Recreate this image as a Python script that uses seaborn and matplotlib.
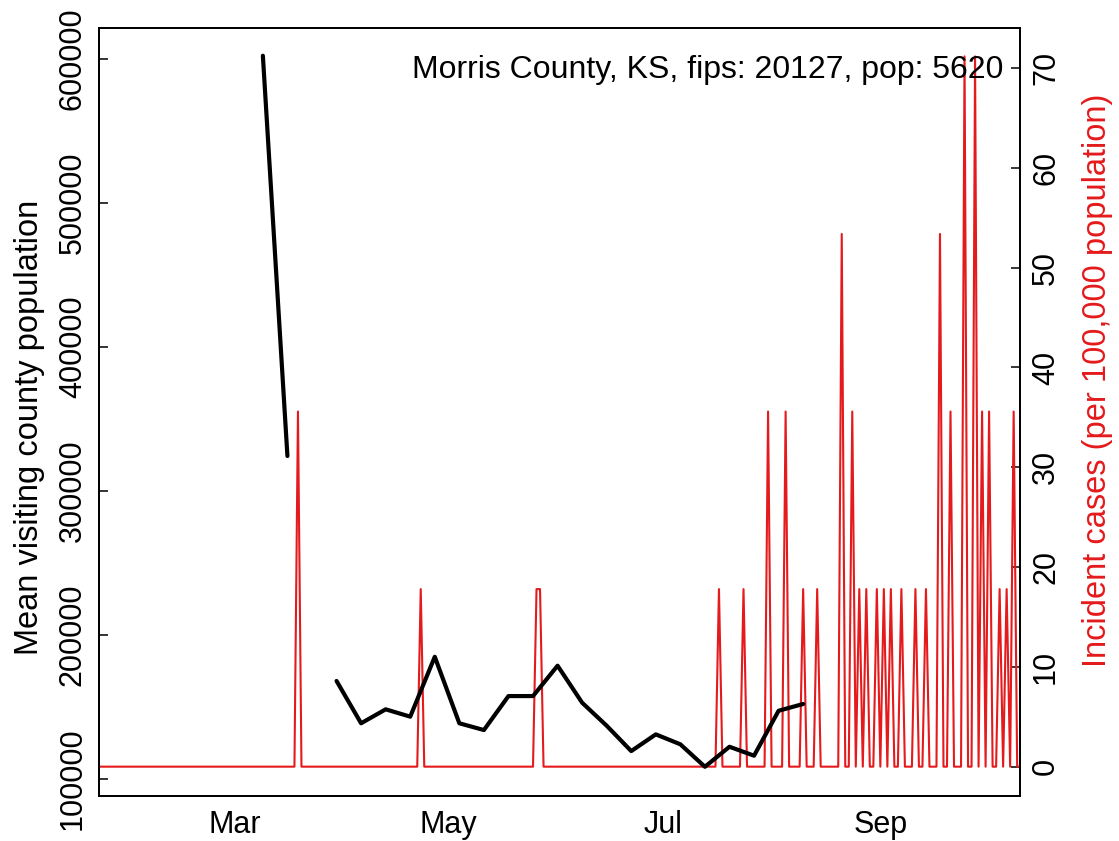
import matplotlib
matplotlib.use("Agg")
import matplotlib.pyplot as plt
import numpy as np
import pandas as pd
import seaborn as sns

COUNTY_LABEL = "Morris County, KS, fips: 20127, pop: 5620"
POPULATION = 5620

# weekly mean visiting-county population (Monday weeks); None = missing week
visit_weeks = [
    "2020-03-09", "2020-03-16", "2020-03-23", "2020-03-30", "2020-04-06",
    "2020-04-13", "2020-04-20", "2020-04-27", "2020-05-04", "2020-05-11",
    "2020-05-18", "2020-05-25", "2020-06-01", "2020-06-08", "2020-06-15",
    "2020-06-22", "2020-06-29", "2020-07-06", "2020-07-13", "2020-07-20",
    "2020-07-27", "2020-08-03", "2020-08-10",
]
visit_means = [
    602300, 324300, None, 168100, 138700,
    148400, 143300, 184900, 138700, 134000,
    157600, 157600, 178700, 153000, 137000,
    119400, 131000, 124100, 108500, 122400,
    116200, 147400, 152100,
]

# days with reported cases (all other days are zero)
case_dates = [
    "2020-03-19", "2020-04-23", "2020-05-26", "2020-05-27", "2020-07-17",
    "2020-07-24", "2020-07-31", "2020-08-05", "2020-08-10", "2020-08-14",
    "2020-08-21", "2020-08-24", "2020-08-26", "2020-08-28", "2020-08-31",
    "2020-09-02", "2020-09-04", "2020-09-07", "2020-09-11", "2020-09-14",
    "2020-09-18", "2020-09-21", "2020-09-25", "2020-09-28", "2020-09-30",
    "2020-10-02", "2020-10-05", "2020-10-07", "2020-10-09",
]
case_counts = [
    2, 1, 1, 1, 1,
    1, 2, 2, 1, 1,
    3, 2, 1, 1, 1,
    1, 1, 1, 1, 1,
    3, 2, 4, 4, 2,
    2, 1, 1, 2,
]
series_start, series_end = "2020-01-22", "2020-10-11"

month_ticks = ["2020-03-01", "2020-05-01", "2020-07-01", "2020-09-01"]
month_labels = ["Mar", "May", "Jul", "Sep"]
left_ticks = [100000, 200000, 300000, 400000, 500000, 600000]
right_ticks = [0, 10, 20, 30, 40, 50, 60, 70]

RED = "#E41A1C"

# tables for seaborn
visits = pd.DataFrame({"date": pd.to_datetime(visit_weeks),
                       "visitors": pd.array(visit_means, dtype="Float64").astype(float)})
visits["segment"] = visits["visitors"].isna().cumsum()
visits = visits.dropna()

days = pd.date_range(series_start, series_end, freq="D")
cases = pd.Series(0, index=days, dtype=float)
cases.loc[pd.to_datetime(case_dates)] = case_counts
incid = pd.DataFrame({"date": days, "rate": cases.values * 1e5 / POPULATION})

sns.set_style("white")
plt.rcParams["font.family"] = ["Liberation Sans", "DejaVu Sans"]
plt.rcParams.update({"text.color": "black", "axes.labelcolor": "black",
                     "xtick.color": "black", "ytick.color": "black"})
FS = 22

fig = plt.figure(figsize=(11.19, 8.41), dpi=100)
ax = fig.add_axes([0.0885, 0.0535, 0.8230, 0.9138])
ax2 = ax.twinx()

sns.lineplot(data=incid, x="date", y="rate", color=RED, linewidth=1.5, ax=ax2)
sns.lineplot(data=visits, x="date", y="visitors", units="segment", estimator=None,
             color="black", linewidth=3.0, ax=ax)

# black line above the red one
ax.set_zorder(ax2.get_zorder() + 1)
ax.patch.set_visible(False)

t0 = pd.Timestamp("2020-03-01")
ax.set_xlim(t0 - pd.Timedelta(days=38.7), t0 + pd.Timedelta(days=223.8))
ax.set_ylim(88200, 621900)
ax2.set_ylim(-2.94, 74.07)

ax.set_xticks(pd.to_datetime(month_ticks))
ax.set_xticklabels(month_labels, fontsize=FS)
ax.set_yticks(left_ticks)
ax.set_yticklabels([str(v) for v in left_ticks], fontsize=FS, rotation=90, va="center")
ax2.set_yticks(right_ticks)
ax2.set_yticklabels([str(v) for v in right_ticks], fontsize=FS, rotation=90, va="center")

for a in (ax, ax2):
    a.tick_params(direction="in", length=6.5, width=1.1, colors="black", pad=8)
    for s in a.spines.values():
        s.set_color("black")
        s.set_linewidth(1.3)
ax.tick_params(axis="x", pad=10)

ax.set_xlabel("")
ax.set_ylabel("")
ax2.set_ylabel("")
fig.text(0.026, 0.492, "Mean visiting county population", rotation=90,
         ha="center", va="center", fontsize=23.5, color="black")
fig.text(0.981, 0.548, "Incident cases (per 100,000 population)", rotation=90,
         ha="center", va="center", fontsize=23.5, color=RED)

ax.text(0.982, 0.945, COUNTY_LABEL, transform=ax.transAxes, ha="right",
        va="center", fontsize=23, color="black")

fig.savefig("out.png", dpi=100)
